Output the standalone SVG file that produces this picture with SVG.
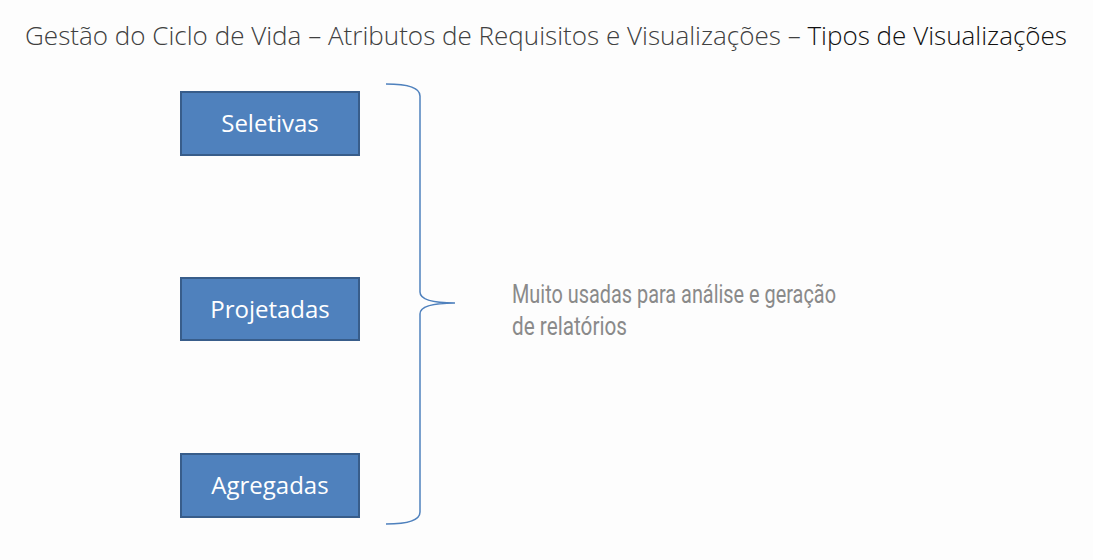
<svg xmlns="http://www.w3.org/2000/svg" width="1093" height="560" viewBox="0 0 1093 560">
<style>
.box{fill:#4F81BD;stroke:#385D8A;stroke-width:2}
.bt{fill:#fff;font-family:"Open Sans","Liberation Sans",sans-serif;font-size:24px;text-anchor:middle}
.title{font-family:"Open Sans","Liberation Sans",sans-serif;font-weight:300;font-size:25px;fill:#404040}
.note{font-family:"Roboto","Liberation Sans",sans-serif;font-size:25px;fill:#8a8a8a}
</style>
<rect width="1093" height="560" fill="#fdfdfd"/>
<text class="title" x="25" y="45" textLength="1042" lengthAdjust="spacingAndGlyphs">Gestão do Ciclo de Vida – Atributos de Requisitos e Visualizações – <tspan fill="#111">Tipos de Visualizações</tspan></text>
<g id="seletivas"><rect class="box" x="181" y="92" width="178" height="63"/><text class="bt" x="270" y="132">Seletivas</text></g>
<g id="projetadas"><rect class="box" x="181" y="278" width="178" height="62"/><text class="bt" x="270" y="318">Projetadas</text></g>
<g id="agregadas"><rect class="box" x="181" y="454" width="178" height="63"/><text class="bt" x="270" y="494">Agregadas</text></g>
<g id="connectors">
<path d="M386,84 Q420,84 420,96 L420,292 Q420,303 455,303 Q420,303 420,314 L420,512 Q420,524 386,524" fill="none" stroke="#4F81BD" stroke-width="1.5"/>
</g>
<g id="note">
<text class="note" x="512" y="303" textLength="324" lengthAdjust="spacingAndGlyphs">Muito usadas para análise e geração</text>
<text class="note" x="512" y="335" textLength="115" lengthAdjust="spacingAndGlyphs">de relatórios</text>
</g>
</svg>
